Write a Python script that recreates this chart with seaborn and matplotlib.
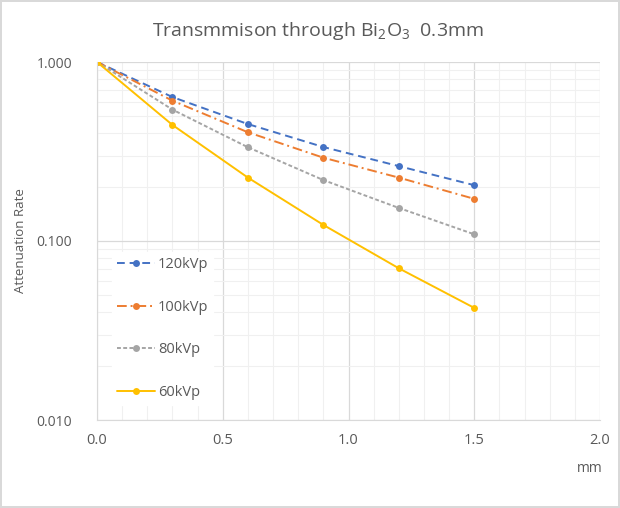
import numpy as np
import pandas as pd
import matplotlib
matplotlib.use("Agg")
import matplotlib.pyplot as plt
from matplotlib.ticker import FixedLocator, MultipleLocator, LogLocator, NullFormatter
import seaborn as sns

sns.set_style("white")
plt.rcParams['font.family'] = ['Open Sans', 'DejaVu Sans']
plt.rcParams['mathtext.default'] = 'regular'

# Data
thickness = [0.0, 0.3, 0.6, 0.9, 1.2, 1.5]
kvp120 = [1.0, 0.637, 0.450, 0.335, 0.262, 0.205]
kvp100 = [1.0, 0.608, 0.405, 0.292, 0.226, 0.172]
kvp80 = [1.0, 0.542, 0.334, 0.219, 0.153, 0.109]
kvp60 = [1.0, 0.445, 0.226, 0.123, 0.0704, 0.0423]
series_names = ["120kVp", "100kVp", "80kVp", "60kVp"]

df = pd.DataFrame({
    "mm": thickness * 4,
    "rate": kvp120 + kvp100 + kvp80 + kvp60,
    "series": [s for s in series_names for _ in thickness],
})

colors = {"120kVp": "#4472C4", "100kVp": "#ED7D31", "80kVp": "#A5A5A5", "60kVp": "#FFC000"}
dashes = {"120kVp": (4, 2.5), "100kVp": (5, 2, 1, 2), "80kVp": (2, 1.2), "60kVp": ""}

fig = plt.figure(figsize=(6.2, 5.08), dpi=100, edgecolor="#d9d9d9", linewidth=1.5)
ax = fig.add_axes([97 / 620, 1 - 420 / 508, 503 / 620, 358 / 508])

sns.lineplot(data=df, x="mm", y="rate", hue="series", style="series",
             palette=colors, dashes=dashes, markers={s: "o" for s in series_names},
             markersize=5, markeredgewidth=0, linewidth=1.4, ax=ax)

ax.set_yscale("log")
ax.set_ylim(0.01, 1.0)
ax.set_xlim(0, 2.0)
ax.yaxis.set_major_locator(FixedLocator([0.01, 0.1, 1.0]))
ax.yaxis.set_minor_locator(LogLocator(base=10, subs=np.arange(2, 10)))
ax.yaxis.set_minor_formatter(NullFormatter())
ax.set_yticklabels(["0.010", "0.100", "1.000"])
ax.xaxis.set_major_locator(MultipleLocator(0.5))
ax.xaxis.set_minor_locator(MultipleLocator(0.1))
ax.xaxis.set_major_formatter(matplotlib.ticker.FormatStrFormatter("%.1f"))

ax.grid(True, which="major", color="#d9d9d9", linewidth=0.9)
ax.grid(True, which="minor", color="#f0f0f0", linewidth=0.8)
ax.set_axisbelow(True)
for side in ["top", "right"]:
    ax.spines[side].set_visible(False)
for side in ["left", "bottom"]:
    ax.spines[side].set_color("#d9d9d9")
ax.tick_params(axis="x", which="both", length=0, colors="#595959", labelsize=10.5, pad=9)
ax.tick_params(axis="y", which="both", length=0, colors="#595959", labelsize=10, pad=18)

ax.set_xlabel("")
ax.set_ylabel("Attenuation Rate", color="#595959", fontsize=9.5)
ax.yaxis.set_label_coords(-0.14, 0.5)
fig.text(590 / 620, 1 - 468 / 508, "mm", color="#595959", fontsize=10, ha="center", va="center")
fig.text(0.5 + 8 / 620, 1 - 31 / 508, "Transmmison through Bi$_2$O$_3$  0.3mm",
         color="#595959", fontsize=14, ha="center", va="center")

leg = ax.legend(loc="upper left", bbox_to_anchor=(0.015, 0.49), frameon=True,
                facecolor="white", edgecolor="white", framealpha=1,
                labelspacing=1.9, handlelength=2.6, handletextpad=0.2,
                fontsize=10.5, borderpad=0.35)
for t in leg.get_texts():
    t.set_color("#595959")

fig.savefig("out.png", dpi=100)
